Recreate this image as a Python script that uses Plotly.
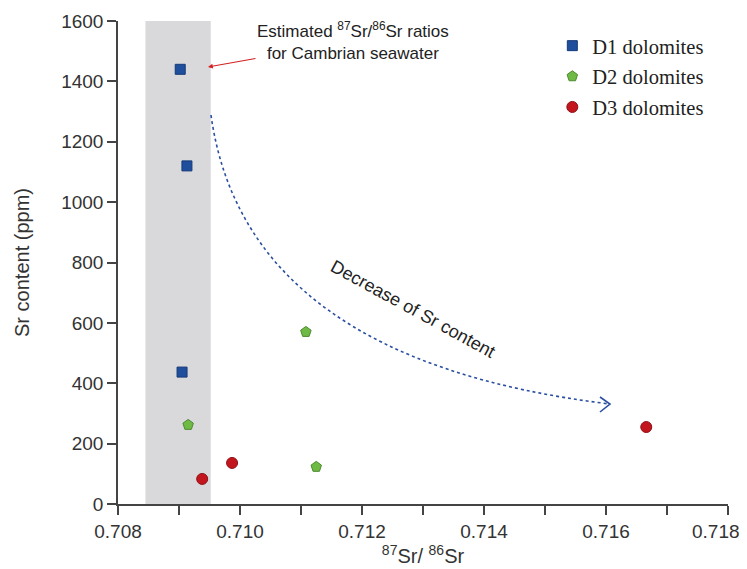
import plotly.graph_objects as go

# ---- data ----
d1_x = [0.70902, 0.70913, 0.70905]
d1_y = [1440, 1120, 437]
d2_x = [0.70915, 0.71108, 0.71125]
d2_y = [262, 570, 123]
d3_x = [0.70938, 0.70987, 0.71666]
d3_y = [83, 136, 255]
band_x = [0.70845, 0.70952]
x_ticks = [0.708, 0.710, 0.712, 0.714, 0.716, 0.718]
x_ticktext = ["0.708", "0.710", "0.712", "0.714", "0.716", "0.718"]
y_ticks = [0, 200, 400, 600, 800, 1000, 1200, 1400, 1600]
x_range = [0.708, 0.718]
y_range = [0, 1600]

# page offset (body margin) = 8 px
OFF = 8
W, H = 739, 561
L, R, T, B = 110, 19, 13, 65
pw, ph = W - L - R, H - T - B
PL, PT = L + OFF, T + OFF  # plot area on page

def px2d(px, py):
    x = x_range[0] + (px - PL) / pw * (x_range[1] - x_range[0])
    y = y_range[0] + (PT + ph - py) / ph * (y_range[1] - y_range[0])
    return x, y

fig = go.Figure()
fig.add_trace(go.Scatter(x=d1_x, y=d1_y, mode="markers", name="D1 dolomites", legendgroup="a",
                         marker=dict(symbol="square", size=10, color="#1f4e9c",
                                     line=dict(color="#163a78", width=1))))
fig.add_trace(go.Scatter(x=d2_x, y=d2_y, mode="markers", name="D2 dolomites", legendgroup="b",
                         marker=dict(symbol="pentagon", size=11, color="#6fba45",
                                     line=dict(color="#4d8a2e", width=1))))
fig.add_trace(go.Scatter(x=d3_x, y=d3_y, mode="markers", name="D3 dolomites", legendgroup="c",
                         marker=dict(symbol="circle", size=11, color="#c3151d",
                                     line=dict(color="#8f1015", width=1))))

# grey band
fig.add_shape(type="rect", xref="x", yref="y", x0=band_x[0], x1=band_x[1],
              y0=y_range[0], y1=y_range[1], fillcolor="#d9d9dc", line_width=0, layer="below")

# curved dotted arrow (quadratic bezier in page pixels converted to data)
p0 = (211, 115); c = (245, 360); p2 = (610, 404)
a = px2d(*p0); b = px2d(*c); e = px2d(*p2)
fig.add_shape(type="path", xref="x", yref="y",
              path=f"M {a[0]},{a[1]} Q {b[0]},{b[1]} {e[0]},{e[1]}",
              line=dict(color="#2a4fa0", width=1.6, dash="dot"))
h1 = px2d(600, 397); h2 = px2d(600, 412)
fig.add_shape(type="path", xref="x", yref="y",
              path=f"M {h1[0]},{h1[1]} L {e[0]},{e[1]} L {h2[0]},{h2[1]}",
              line=dict(color="#2a4fa0", width=1.6))

tx, ty = px2d(413, 309)
fig.add_annotation(x=tx, y=ty, xref="x", yref="y", text="Decrease of Sr content",
                   showarrow=False, textangle=28.6,
                   font=dict(family="Liberation Sans", size=18, color="#222"))

# red annotation arrow
ax_, ay_ = px2d(208, 67)
fig.add_annotation(x=ax_, y=ay_, xref="x", yref="y",
                   text="Estimated <sup>87</sup>Sr/<sup>86</sup>Sr ratios<br>for Cambrian seawater",
                   showarrow=True, arrowhead=2, arrowsize=0.8, arrowwidth=1.2,
                   arrowcolor="#d42020", ax=145, ay=-26, xanchor="center",
                   align="center",
                   font=dict(family="Liberation Sans", size=17, color="#222"))

# last x tick label, right-aligned so it stays inside the page
tick_labels_shown = x_ticktext[:-1] + [""]
fig.add_annotation(x=x_ticks[-1], y=0, xref="x", yref="paper", text=x_ticktext[-1],
                   showarrow=False, xanchor="right", yanchor="middle", xshift=14, yshift=-27,
                   font=dict(family="Liberation Sans", size=19, color="#333"))

fig.update_layout(
    width=W, height=H, margin=dict(l=L, r=R, t=T, b=B, autoexpand=False),
    paper_bgcolor="white", plot_bgcolor="white",
    font=dict(family="Liberation Sans", color="#333"),
    legend=dict(x=0.712, y=0.99, xanchor="left", yanchor="top",
                font=dict(family="Liberation Serif", size=20.5, color="#222"),
                bgcolor="rgba(0,0,0,0)", tracegroupgap=1, itemwidth=30),
    xaxis=dict(range=x_range, tickvals=x_ticks, ticktext=tick_labels_shown, automargin=False,
               showgrid=False, zeroline=False, showline=True, linecolor="#444",
               linewidth=1.5, ticks="outside", ticklen=9, tickwidth=1.5, tickcolor="#444",
               minor=dict(dtick=0.001, tick0=0.708, ticks="outside", ticklen=9,
                          tickwidth=1.5, tickcolor="#444"),
               tickfont=dict(size=19, color="#333"),
               title=dict(text="<sup>87</sup>Sr/ <sup>86</sup>Sr", font=dict(size=20, color="#333"),
                          standoff=4)),
    yaxis=dict(range=y_range, tickvals=y_ticks, automargin=False, showgrid=False,
               zeroline=False, showline=True,
               linecolor="#444", linewidth=1.5, ticks="outside", ticklen=9, tickwidth=1.5,
               tickcolor="#444", tickfont=dict(size=19, color="#333"),
               title=dict(text="Sr content (ppm)", font=dict(size=20, color="#333"), standoff=26)),
)

fig.write_html("out.html")
